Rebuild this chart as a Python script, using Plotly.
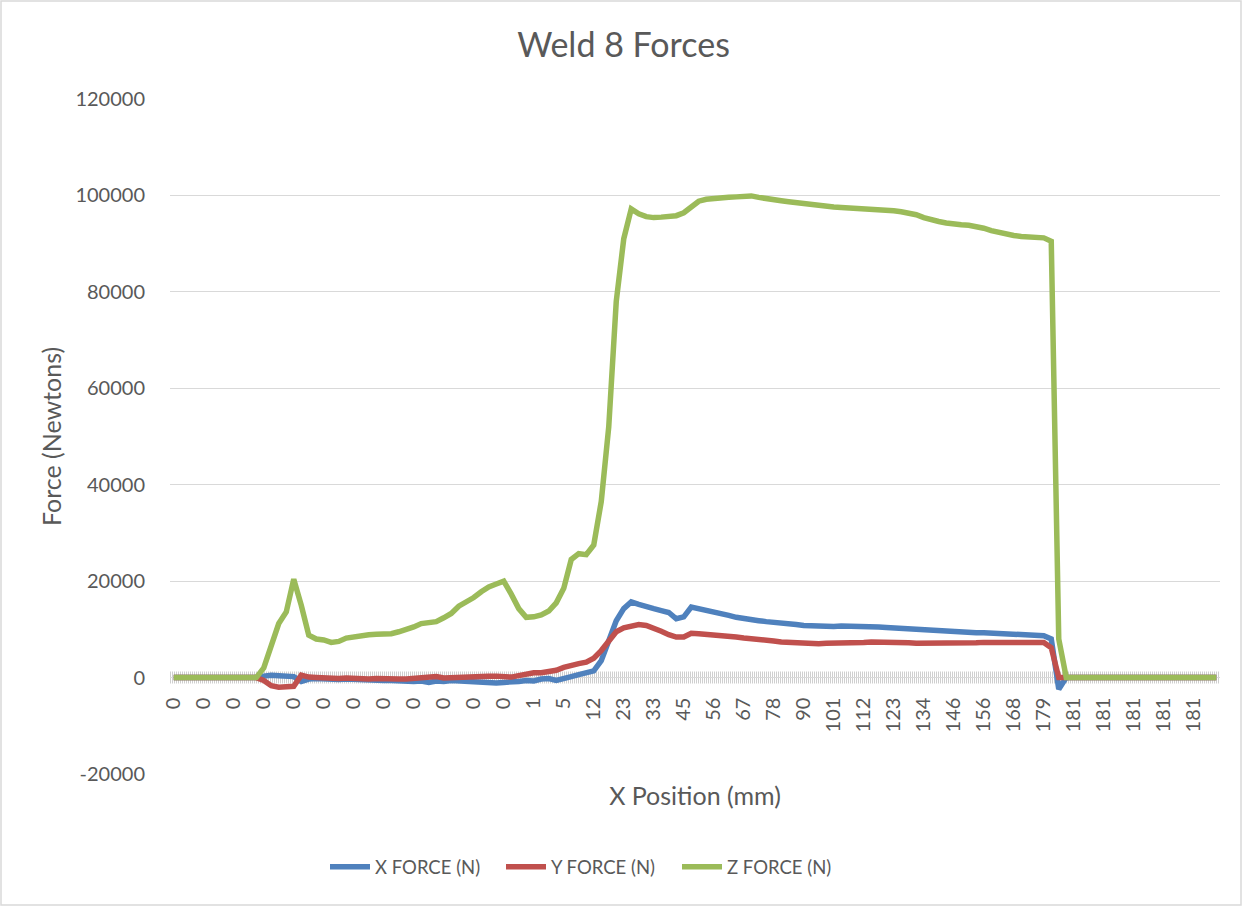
import plotly.graph_objects as go

# Axis labels shown along the category axis (X position in mm), one every 4 samples
tick_labels = ["0"] * 12 + [
    "1", "5", "12", "23", "33", "45", "56", "67", "78", "90", "101", "112",
    "123", "134", "146", "156", "168", "179",
] + ["181"] * 5
SAMPLES_PER_LABEL = 4

# Force axis ticks (N)
force_ticks = [-20000, 0, 20000, 40000, 60000, 80000, 100000, 120000]

# Force readings (N), sampled along the weld
x_force = [
    0, 0, 0, 0, 0, 0, 0, 0, 0, 0, 0, 0,
    300, 500, 400, 300, 200, -800, -300, -200, -300, -300, -400, -300,
    -400, -500, -400, -500, -600, -600, -700, -600, -800, -700, -1000, -700,
    -800, -600, -700, -800, -900, -1000, -1000, -1100, -1000, -1000, -800, -600,
    -700, -300, -200, -600, -300, 200, 600, 1000, 1400, 3500, 7500, 11800,
    14300, 15700, 15200, 14600, 14300, 13900, 13500, 12200, 12600, 14600, 14300, 13900,
    13600, 13300, 12900, 12500, 12200, 12000, 11800, 11600, 11500, 11300, 11100, 11000,
    10800, 10700, 10600, 10600, 10600, 10700, 10700, 10600, 10600, 10500, 10500, 10400,
    10300, 10200, 10100, 10000, 9900, 9700, 9600, 9600, 9500, 9500, 9400, 9300,
    9300, 9200, 9100, 9000, 9000, 8900, 8900, 8800, 8700, 8000, -2400, 0,
    0, 0, 0, 0, 0, 0, 0, 0, 0, 0, 0, 0, 0, 0, 0, 0, 0, 0, 0, 0,
]

y_force = [
    0, 0, 0, 0, 0, 0, 0, 0, 0, 0, 0, 0,
    -600, -1700, -2000, -2000, -1800, 500, 100, 0, -100, 0, -200, -100,
    -200, -100, -300, -200, -300, -400, -300, -300, -200, -100, 100, 200,
    -100, 0, 100, 200, 300, 200, 300, 300, 200, 100, 400, 800,
    1000, 1000, 1300, 1500, 2100, 2600, 2900, 3200, 4000, 5600, 7600, 9500,
    10300, 10700, 11000, 10800, 10300, 9600, 8900, 8400, 8400, 9200, 9100, 9000,
    8800, 8700, 8500, 8400, 8200, 8100, 7900, 7800, 7600, 7400, 7300, 7200,
    7100, 7100, 7000, 7100, 7100, 7200, 7200, 7300, 7300, 7400, 7400, 7300,
    7300, 7200, 7200, 7100, 7100, 7000, 7100, 7100, 7100, 7200, 7200, 7200,
    7300, 7200, 7300, 7300, 7300, 7400, 7300, 7300, 7300, 6200, 0, 0,
    0, 0, 0, 0, 0, 0, 0, 0, 0, 0, 0, 0, 0, 0, 0, 0, 0, 0, 0, 0,
]

z_force = [
    0, 0, 0, 0, 0, 0, 0, 0, 0, 0, 0, 0,
    2000, 6200, 11200, 13600, 20400, 15000, 8800, 8000, 7800, 7300, 7500, 8200,
    8500, 8800, 8900, 9000, 9000, 9100, 9500, 9900, 10500, 11200, 11400, 11600,
    12400, 13300, 14800, 15600, 16600, 17800, 18800, 19400, 20000, 17300, 14300, 12500,
    12600, 13000, 13800, 15500, 18500, 24500, 25700, 25500, 27500, 36500, 52000, 78000,
    91000, 97200, 96200, 95600, 95400, 95500, 95700, 95800, 96400, 97500, 98800, 99200,
    99400, 99500, 99600, 99700, 99800, 99900, 99600, 99300, 99100, 98900, 98700, 98500,
    98300, 98100, 97800, 97700, 97600, 97500, 97400, 97300, 97300, 97200, 97200, 97100,
    96800, 96600, 96400, 96000, 95400, 94900, 94600, 94300, 94000, 93900, 93800, 93600,
    93200, 92700, 92300, 91900, 91700, 91500, 91400, 91400, 91200, 90500, 8000, 0,
    0, 0, 0, 0, 0, 0, 0, 0, 0, 0, 0, 0, 0, 0, 0, 0, 0, 0, 0, 0,
]

series_names = ["X FORCE (N)", "Y FORCE (N)", "Z FORCE (N)"]
series_colors = ["#4F81BD", "#C0504D", "#9BBB59"]

n = len(z_force)
idx = list(range(n))

TEXT = "#595959"
GRID = "#D9D9D9"
FONT = "Lato"

fig = go.Figure()
for name, vals, col in zip(series_names, [x_force, y_force, z_force], series_colors):
    fig.add_trace(go.Scatter(
        x=idx, y=vals, mode="lines", name=name,
        line=dict(color=col, width=5.5),
    ))

y_min, y_max = force_ticks[0], force_ticks[-1]
zero_frac = (0 - y_min) / (y_max - y_min)

fig.update_layout(
    width=1247, height=907,
    margin=dict(l=170, r=27, t=99, b=133),
    paper_bgcolor="white", plot_bgcolor="white",
    font=dict(family=FONT, color=TEXT, size=20),
    title=dict(text="Weld 8 Forces", x=0.5, xanchor="center",
               y=1 - 45 / 907, yanchor="middle",
               font=dict(size=34, color=TEXT, family=FONT)),
    showlegend=True,
    legend=dict(orientation="h", x=(325 - 170) / 1050, xanchor="left",
                y=-0.138, yanchor="middle",
                entrywidth=121, entrywidthmode="pixels",
                font=dict(size=18.5, color=TEXT), itemwidth=40),
    xaxis=dict(
        range=[-0.5, n - 0.5],
        tickmode="array",
        tickvals=[i * SAMPLES_PER_LABEL for i in range(len(tick_labels))],
        ticktext=tick_labels,
        tickangle=-90,
        ticks="outside", ticklen=11, tickcolor="rgba(0,0,0,0)",
        showgrid=False, zeroline=False, showline=False,
        anchor="free", position=zero_frac,
        tickfont=dict(size=20, color=TEXT),
        title=dict(text="X Position (mm)", standoff=56,
                   font=dict(size=25, color=TEXT)),
    ),
    yaxis=dict(
        range=[y_min, y_max],
        tickmode="array",
        tickvals=force_ticks,
        ticktext=[str(v) for v in force_ticks],
        showgrid=True, gridcolor=GRID, gridwidth=1.3,
        zeroline=False, showline=False,
        ticks="outside", ticklen=20, tickcolor="rgba(0,0,0,0)",
        tickfont=dict(size=20, color=TEXT),
        title=dict(text="Force (Newtons)", standoff=6,
                   font=dict(size=25, color=TEXT)),
    ),
    shapes=[
        # dense category tick marks crossing the axis at zero
        dict(type="line", xref="x", yref="y", x0=-0.5, x1=n - 0.5, y0=0, y1=0,
             line=dict(color="#CFCFCF", width=12, dash="1px,1px"), layer="below"),
        # chart area border
        dict(type="rect", xref="paper", yref="paper",
             x0=(1 - 170) / 1050, x1=(1241 - 170) / 1050,
             y0=(774 - 905) / 675, y1=(774 - 1) / 675,
             line=dict(color=GRID, width=1.5), fillcolor="rgba(0,0,0,0)"),
    ],
)

fig.write_html("out.html")
